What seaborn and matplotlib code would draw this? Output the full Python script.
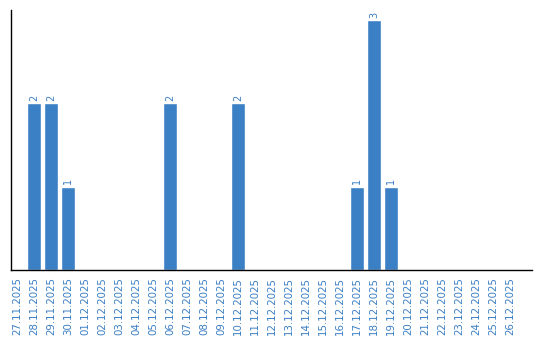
import matplotlib
matplotlib.use("Agg")
import matplotlib.pyplot as plt
import seaborn as sns
import pandas as pd

dates = ["27.11.2025", "28.11.2025", "29.11.2025", "30.11.2025", "01.12.2025",
         "02.12.2025", "03.12.2025", "04.12.2025", "05.12.2025", "06.12.2025",
         "07.12.2025", "08.12.2025", "09.12.2025", "10.12.2025", "11.12.2025",
         "12.12.2025", "13.12.2025", "14.12.2025", "15.12.2025", "16.12.2025",
         "17.12.2025", "18.12.2025", "19.12.2025", "20.12.2025", "21.12.2025",
         "22.12.2025", "23.12.2025", "24.12.2025", "25.12.2025", "26.12.2025"]
counts = [0, 2, 2, 1, 0, 0, 0, 0, 0, 2,
          0, 0, 0, 2, 0, 0, 0, 0, 0, 0,
          1, 3, 1, 0, 0, 0, 0, 0, 0, 0]

color = "#3b7fc4"
df = pd.DataFrame({"date": dates, "count": counts})

sns.set_style("white")
fig = plt.figure(figsize=(5.4, 3.4), dpi=100)
ax = fig.add_axes([11/540, 1 - 270/340, (532-11)/540, 260/340])
sns.barplot(data=df, x="date", y="count", color=color, width=0.82,
            saturation=1, ax=ax)

for i, v in enumerate(counts):
    if v > 0:
        ax.text(i, v + 0.03, str(v), rotation=90, ha="center", va="bottom",
                color=color, fontsize=7)

ax.set_xlim(-0.35, 30.3)
ax.set_ylim(0, 3.12)
ax.set_yticks([])
ax.set_xlabel("")
ax.set_ylabel("")
ax.tick_params(axis="x", length=0, pad=5, labelsize=7.4, labelcolor=color,
               rotation=90)
for s in ["top", "right"]:
    ax.spines[s].set_visible(False)
for s in ["left", "bottom"]:
    ax.spines[s].set_color("black")
    ax.spines[s].set_linewidth(1)

fig.savefig("out.png", dpi=100)
